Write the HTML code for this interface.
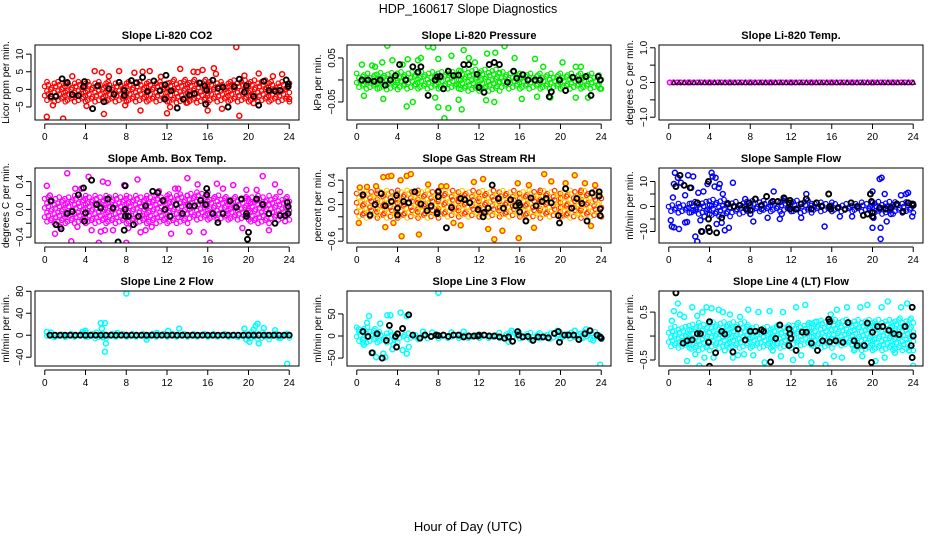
<!DOCTYPE html>
<html><head><meta charset="utf-8">
<style>
html,body{margin:0;padding:0;background:#fff;}
svg{display:block;font-family:"Liberation Sans",Arial,sans-serif;}
</style></head>
<body>
<svg id="chart" width="936" height="540" viewBox="0 0 936 540" xmlns="http://www.w3.org/2000/svg">
<rect x="0" y="0" width="936" height="540" fill="#fff"/>
<text x="468" y="13" text-anchor="middle" font-size="12.5">HDP_160617  Slope Diagnostics</text>
<text x="468" y="531" text-anchor="middle" font-size="13">Hour of Day (UTC)</text>
</svg>
<script>
// ---------- data ----------
const xTicks = [0,4,8,12,16,20,24];
const panelTitles = ["Slope Li-820 CO2","Slope Li-820 Pressure","Slope Li-820 Temp.","Slope Amb. Box Temp.","Slope Gas Stream RH","Slope Sample Flow","Slope Line 2 Flow","Slope Line 3 Flow","Slope Line 4 (LT) Flow"];
const yTitles = ["Licor ppm per min.","kPa per min.","degrees C per min.","degrees C per min.","percent per min.","ml/min per min.","ml/min per min.","ml/min per min.","ml/min per min."];
const yDomains = [[-8.7,12.6],[-0.091,0.0795],[-1.08,1.08],[-0.484,0.596],[-0.63,0.6],[-14.6,15.4],[-56,80.5],[-68,102],[-0.625,0.94]];
const yTickVals = [[-5,0,5,10],[-0.05,0,0.05],[-1,-0.5,0,0.5,1],[-0.4,-0.2,0,0.2,0.4],[-0.6,-0.4,-0.2,0,0.2,0.4],[-10,-5,0,5,10],[-40,0,40,80],[-50,0,50],[-0.5,0,0.5]];
const yTickLabels = [["−5","0","5","10"],["−0.05","","0.05"],["−1.0","","0.0","","1.0"],["−0.4","","0.0","","0.4"],["−0.6","","","0.0","","0.4"],["−10","","0","","10"],["−40","0","40","80"],["−50","0","50"],["−0.5","","0.5"]];
const colors = ["#ff0000","#00ee00","#ff00ff","#ff00ff","#ff8c00","#0000ff","#00ffff","#00ffff","#00ffff"];

// dense core band: low/high per 2-hour bin
const coreLo = [
 [-3.5,-3.5,-3.5,-3.5,-3.5,-3.5,-3.8,-3.8,-3.5,-3.5,-3.5,-3.5],
 [-0.02,-0.022,-0.02,-0.02,-0.02,-0.025,-0.025,-0.02,-0.02,-0.02,-0.02,-0.02],
 [0,0,0,0,0,0,0,0,0,0,0,0],
 [-0.2,-0.2,-0.2,-0.2,-0.2,-0.2,-0.2,-0.15,-0.15,-0.15,-0.2,-0.15],
 [-0.22,-0.22,-0.22,-0.22,-0.2,-0.2,-0.2,-0.2,-0.22,-0.2,-0.22,-0.2],
 [-2.5,-3,-4,-3,-2,-2,-2.5,-2,-2,-2,-3,-2.5],
 [-4,-3,-6,-3,-3,-3,-3,-3,-3,-4,-8,-5],
 [-15,-15,-8,-6,-5,-5,-5,-6,-6,-7,-6,-8],
 [-0.25,-0.3,-0.25,-0.25,-0.25,-0.25,-0.2,-0.25,-0.2,-0.3,-0.3,-0.3]];
const coreHi = [
 [2.5,2.5,2.5,2.5,2.5,2.5,2.8,2.8,2.5,2.8,2.8,2.5],
 [0.015,0.018,0.02,0.02,0.025,0.025,0.025,0.02,0.018,0.018,0.015,0.015],
 [0,0,0,0,0,0,0,0,0,0,0,0],
 [0.18,0.2,0.2,0.2,0.2,0.2,0.22,0.25,0.22,0.2,0.2,0.2],
 [0.25,0.25,0.25,0.25,0.25,0.25,0.25,0.25,0.25,0.25,0.25,0.25],
 [1.5,2,3,2,2.5,2.5,2.5,2,1.5,2,2,2],
 [4,3,6,3,3,3,3,3,3,4,8,5],
 [20,12,8,6,5,5,5,8,8,8,8,10],
 [0.2,0.3,0.3,0.3,0.2,0.25,0.3,0.35,0.35,0.35,0.35,0.4]];

const co2Outliers = [[0.2,-7.8],[1.8,-8.3],[0.8,-4.5],[4.9,5.2],[5.6,4.8],[5.8,-7],[7.3,5.2],[8.8,4.7],[9.4,-6],[9.6,5],[10.3,5.2],[12,-6.8],[12.3,-5],[13.3,5.8],[14.6,5],[15,4.9],[15.5,5.5],[16,-6],[16.6,6],[16.8,4.4],[17.4,-5.5],[18.8,12],[19.1,-7.5],[21,4.5],[23.3,4.3],[2.7,3.7],[4.1,-4.7],[6.3,3.7],[11.4,3.6],[19.6,3.9],[22.4,3.7],[7.9,-4.5],[13.9,-3.8],[20.5,-3.9],[24,-2.7]];
const co2Black = [[0.6,-2],[1.1,-2],[1.7,3],[2.2,1.9],[2.7,-1.5],[3.3,-1.8],[3.8,0.8],[3.9,2.2],[4.7,-5.5],[5.2,1],[5.8,-3.5],[6.3,0.2],[6.8,-1.4],[7.3,2],[7.8,-0.3],[7.8,-1.7],[8.5,2.5],[9,1.9],[9.6,3.4],[10.1,-0.6],[10.7,2.4],[11.3,-0.4],[11.8,-2.8],[11.8,1.3],[11.9,4],[12.4,-0.4],[13,-5.3],[13.6,-2.8],[14.2,-1.6],[14.7,-1.2],[15.2,1.8],[15.7,1],[15.8,-4.2],[15.9,-0.2],[16.5,2.6],[17,0.3],[17.5,0.6],[18,-5],[18.6,0.8],[19.1,2.9],[19.6,-0.8],[19.8,1],[20.5,-2],[21,-4.5],[21.5,2.3],[22,-0.3],[22.6,-0.5],[23.1,-0.3],[23.7,2.7],[23.9,1.5],[23.9,0.8]];

const presOutliers = [[3,0.078],[7,0.076],[7.5,0.074],[10.5,0.068],[14.5,0.077],[9.3,0.055],[12.8,0.06],[13.6,0.062],[0.5,0.035],[1.5,0.033],[2.5,0.04],[3.5,0.045],[5,0.047],[6,0.045],[6.3,0.05],[8,0.048],[11,0.05],[15.5,0.05],[17.5,0.048],[20.2,0.04],[21.5,0.03],[22,0.03],[0.7,-0.036],[2.6,-0.043],[4.9,-0.06],[5.5,-0.05],[7.7,-0.04],[8,-0.062],[8.6,-0.087],[9,-0.064],[10.3,-0.067],[10,-0.045],[12.7,-0.046],[13.5,-0.05],[16.2,-0.043],[17.7,-0.038],[19,-0.04],[21.5,-0.04],[22.7,-0.04],[23.9,-0.02],[1.8,0.03],[4.5,0.035],[11.6,0.04],[18.3,0.03]];
const presBlack = [[0.5,0],[1.1,0],[1.7,-0.003],[2.3,0],[2.8,-0.012],[3.3,0],[3.8,0.01],[4.2,0.035],[4.8,0],[5.5,0.03],[6,0.018],[6.3,0.03],[7,-0.035],[7.7,0],[7.9,0.007],[8.2,0.008],[8.5,-0.02],[9,0.02],[9.5,0.01],[10,0.011],[10.5,0.035],[11,0.035],[11.8,0.013],[12,-0.017],[12.5,-0.028],[13,0.035],[13.5,0.04],[14,0.035],[14.8,-0.005],[15.4,0.02],[15.7,0.004],[16.3,0.012],[16.8,0],[17.5,0],[18,0],[18.9,-0.038],[19.1,-0.027],[19.9,0],[20.5,-0.024],[21.2,0.006],[21.8,0],[22.5,0.008],[23,-0.035],[23.7,0.008],[23.9,0]];

const tempOutliers = [];
const tempBlack = [[0.5,0],[1,0],[1.5,0],[2,0],[2.5,0],[3,0],[3.5,0],[4,0],[4.5,0],[5,0],[5.5,0],[6,0],[6.5,0],[7,0],[7.5,0],[8,0],[8.5,0],[9,0],[9.5,0],[10,0],[10.5,0],[11,0],[11.5,0],[12,0],[12.5,0],[13,0],[13.5,0],[14,0],[14.5,0],[15,0],[15.5,0],[16,0],[16.5,0],[17,0],[17.5,0],[18,0],[18.5,0],[19,0],[19.5,0],[20,0],[20.5,0],[21,0],[21.5,0],[22,0],[22.5,0],[23,0],[23.5,0],[24,0]];

const ambOutliers = [[0.2,0.34],[0.5,0.2],[1,-0.35],[2.2,0.52],[2.6,-0.46],[3,0.3],[3.6,0.3],[4.3,0.47],[4.6,-0.3],[5.3,-0.48],[5.5,-0.32],[5.7,0.4],[6.2,0.38],[6.7,-0.3],[7.8,0.35],[8,-0.48],[8.2,-0.27],[9.1,0.43],[9.4,-0.33],[9.9,-0.3],[11.2,0.26],[12.4,-0.35],[13.1,0.3],[14,0.45],[14.2,-0.32],[15,0.36],[15.6,-0.33],[16.2,-0.48],[16.9,0.37],[18.5,0.35],[19.4,-0.27],[19.8,0.28],[20.8,0.28],[21.4,0.48],[22,-0.3],[22.6,0.36],[23.1,0.25],[23.6,-0.17],[1.5,-0.25],[3.2,-0.25],[5.9,-0.3],[10.5,-0.25],[12.8,0.3],[17.5,0.3]];
const ambBlack = [[0.6,0.12],[1.1,-0.22],[1.6,-0.28],[2.2,-0.06],[2.7,-0.03],[3.3,0.21],[3.8,0.31],[3.9,-0.17],[4,-0.05],[4.6,0.42],[5.1,0.07],[5.5,0.02],[6.2,0.15],[6.7,0.02],[7.2,-0.47],[7.9,0.34],[7.9,0],[7.9,-0.1],[7.8,-0.3],[8.2,-0.1],[8.7,-0.22],[9.2,-0.1],[9.9,0.05],[10.6,0.26],[11.1,0.24],[11.6,0.13],[11.8,0],[12.3,-0.1],[12.9,0.07],[13.5,-0.06],[14.2,0.05],[14.7,0.05],[15.3,0.13],[15.8,0.07],[15.9,0.3],[15.9,0.21],[16.5,-0.06],[17,-0.19],[17.5,-0.06],[18.2,0.12],[18.8,0.03],[19.3,0.15],[19.8,-0.06],[19.8,-0.1],[20,-0.33],[19.9,-0.43],[20.8,0.15],[21.4,0.07],[22,-0.06],[22.6,-0.2],[23.1,-0.09],[23.6,-0.09],[23.8,0.1],[23.9,0.04],[23.9,-0.06]];

const rhOutliers = [[0.3,0.28],[1,0.29],[1.9,0.3],[2.6,0.45],[3.1,0.46],[3.4,0.47],[2.8,-0.37],[4.3,0.4],[4.9,0.47],[5.3,0.5],[4.4,-0.52],[6.1,-0.49],[7,0.33],[8.3,0.3],[8.8,0.3],[10.2,-0.34],[11.5,0.37],[12.4,0.42],[12.9,-0.4],[13.5,-0.57],[14.3,-0.43],[15.8,0.35],[15.9,-0.55],[17.4,-0.38],[18.4,0.5],[19.1,0.38],[20.5,0.35],[21.4,0.48],[22.4,0.35],[23,-0.35],[23.4,0.32],[0.2,-0.3],[3.6,-0.3],[9.5,-0.3],[16.9,0.32]];
const rhBlack = [[0.6,0.16],[1.3,-0.17],[1.8,0],[2.4,0.18],[2.8,-0.02],[3.4,0.05],[3.9,0.15],[4,-0.06],[4,-0.17],[4.6,0.05],[5.1,0.03],[5.7,0.21],[6.3,0.01],[6.9,-0.1],[7.3,-0.02],[7.9,-0.13],[7.9,-0.15],[8,0.13],[8,0.21],[8.8,-0.38],[9.3,-0.05],[10.2,0.1],[10.6,0.08],[11.1,0.03],[11.9,-0.08],[12.4,-0.2],[12.5,-0.13],[12.9,-0.06],[13.3,0.32],[13.9,0.1],[14.4,-0.06],[15.1,0.08],[15.6,-0.02],[15.9,0.03],[16,-0.01],[16,-0.12],[16.6,-0.27],[17.1,0.11],[17.6,-0.02],[18.2,0.05],[18.6,0.1],[19.1,0.03],[19.8,-0.18],[19.9,-0.3],[20.5,0.26],[21.1,-0.06],[21.6,0.1],[22.1,0.02],[22.6,-0.27],[23.1,0.19],[23.8,0.21],[23.8,0.14],[23.9,-0.07],[23.9,-0.18]];

const flowOutliers = [[0.2,-5.5],[0.3,-8],[0.5,-8.3],[0.4,3.6],[0.6,13.5],[0.5,9],[0.9,11.5],[1,-9],[1.2,9.5],[1.6,-6.4],[1.8,-6.2],[1.6,4.5],[1.9,12.5],[2.2,7.5],[2.4,12],[2.4,-1.5],[2.6,-12],[2.8,-14],[2.9,5.5],[3.1,-5.5],[3.4,6],[3.3,-10],[3.5,-4],[3.8,9],[4.2,13.5],[4.3,12],[4.6,11.5],[4.5,8],[4.9,7.5],[5,9],[4.7,-7],[5.2,-6.5],[5.5,-9.5],[5.3,5],[5.9,-8.5],[6.3,9.5],[7.5,3],[8,-3],[8.3,-6],[9.1,-1],[10.3,6],[9.7,-4.5],[10.9,-5],[11.1,-3],[11.4,3],[13,-4.5],[13.5,5],[15.3,-8],[15.9,-1],[16.8,-4],[18,-4],[19.5,-3],[20,-8.5],[20.1,-4.5],[20,6],[20.7,11],[20.9,11.5],[20.8,-13],[20.8,-8.5],[21.2,5],[21.4,-6],[21.8,-3],[22.8,4.5],[23.3,5],[23.5,5.5],[23.9,-4]];
const flowBlack = [[0.7,8],[1.1,12.5],[1.5,8.5],[2.1,7.5],[2.8,1.5],[3.2,-10],[3.9,10],[3.9,-5],[3.9,-8.5],[4,-10],[4.7,-10.5],[5.2,-4.5],[5.8,1],[6.4,0],[7,0.5],[7.6,-1],[7.9,1.5],[8,-1.5],[8.5,3],[9.1,0.5],[9.6,4],[10.2,2],[10.7,2],[11.3,3.5],[11.8,1.5],[11.9,2.5],[11.9,-1],[12.5,-1],[13,1],[13.5,3],[14,-1],[14.5,1.5],[15,0],[15.7,5],[15.8,0],[15.9,-1],[16.6,-0.5],[17.3,-1],[17.9,1.5],[18.5,0],[19.1,-3.5],[19.5,-3],[19.8,5],[19.9,2],[20,-2.5],[20,-4],[20.7,-0.5],[21.3,-1],[21.8,-0.5],[22.4,1],[23,-2],[23.5,1.5],[23.9,1],[24,0.5]];

const line2Outliers = [[5.5,22],[5.9,22],[5.6,12],[6,-15],[5.9,-30],[5.7,-4],[8,76],[4,8],[10,-8],[12.1,8],[13.2,12],[19.6,12],[19.8,-8],[20.1,-12],[20.7,17],[20.5,10],[20.9,21],[21,-15],[21.5,13],[22.6,9],[23.1,-5],[23.8,-52],[0.2,6],[0.6,5],[3.7,6],[7.1,4],[11,4]];
const line2Black = [[0.5,0],[1,0],[1.5,0],[2,0],[2.5,0],[3,0],[3.5,0],[4,0],[4.5,0],[5,0],[5.5,0],[6,0],[6.5,0],[7,0],[7.5,0],[8,0],[8.5,0],[9,0],[9.5,0],[10,0],[10.5,0],[11,0],[11.5,0],[12,0],[12.5,0],[13,0],[13.5,0],[14,0],[14.5,0],[15,0],[15.5,0],[16,0],[16.5,0],[17,0],[17.5,0],[18,0],[18.5,0],[19,0],[19.5,0],[20,0],[20.5,0],[21,0],[21.5,0],[22,0],[22.5,0],[23,0],[23.5,0],[24,0]];

const line3Outliers = [[0.2,15],[0.6,-15],[0.7,-20],[1,30],[1.2,45],[1.6,-38],[1.9,-48],[2.1,5],[2.3,28],[2.6,-40],[2.8,-48],[3,47],[3.3,47],[3.5,-30],[3.6,-20],[4.3,53],[4.5,-32],[4.9,-40],[5.1,-25],[4.9,45],[8,98],[6.5,10],[7.4,8],[9.3,8],[10.5,10],[14.9,-13],[15.2,12],[17.1,-8],[19.7,12],[21.4,12],[22.5,15],[23.2,-10],[23.9,-65]];
const line3Black = [[0.6,10],[1.1,-1],[1.5,-38],[2,5],[2.5,-50],[2.9,-10],[3.2,24],[3.8,-1],[3.9,-25],[4,5],[4.5,17],[5.1,48],[5.5,2],[6.2,-5],[6.7,2],[7.3,-1],[7.8,2],[8,1],[8.5,2],[9,-1],[9.5,2],[10,2],[10.5,-2],[11,0],[11.5,0],[11.9,0],[12,2],[12.5,2],[13,0],[13.5,0],[14,-2],[14.5,-5],[14.9,-2],[15.3,-12],[15.8,10],[15.9,2],[16.3,-2],[16.8,-1],[17.3,-10],[17.8,-2],[18.3,-2],[18.8,-4],[19.4,6],[19.8,10],[19.9,-14],[20.4,2],[20.8,2],[21.3,2],[21.8,-8],[22.4,5],[22.9,12],[23.6,2],[23.9,-2],[24,-5]];

const line4Outliers = [[0.3,0.32],[0.5,0.52],[0.9,0.68],[1.5,0.4],[1.8,-0.52],[2.3,0.6],[2.6,-0.38],[3,-0.62],[3.3,0.5],[3.5,-0.45],[3.7,0.6],[4.2,0.58],[4.4,-0.45],[4.9,0.55],[5.3,0.5],[5.5,-0.3],[6,0.45],[6.3,-0.45],[7,0.4],[7.4,-0.38],[7.8,0.55],[8.8,0.5],[9.4,-0.55],[9.9,0.52],[10.2,-0.3],[11.2,0.5],[12.2,-0.5],[12.5,0.6],[13.4,0.65],[14,-0.55],[14.5,0.3],[15.4,-0.6],[15.9,0.45],[16.5,0.55],[17,-0.45],[17.5,0.6],[18.2,-0.3],[18.8,0.6],[19.5,0.65],[20.3,-0.52],[20.9,0.6],[21.5,0.72],[22.2,-0.35],[22.8,0.6],[23.4,0.68],[23.6,-0.3],[1.1,0.45],[2.8,0.42],[6.8,-0.4],[8.3,-0.4],[11,-0.42],[13,-0.4],[16.2,-0.42],[19,-0.42],[21.2,-0.45],[24,-0.62]];
const line4Black = [[0.7,0.9],[1.4,-0.15],[1.8,-0.1],[2.3,-0.08],[2.8,0.05],[3.1,0.05],[3.9,-0.13],[4,0.3],[4,-0.63],[4.6,-0.35],[5.2,0.1],[5.5,0.04],[6.3,-0.33],[6.8,0.15],[7.5,-0.08],[8,0.1],[8.5,0.1],[9.1,0.13],[9.3,0.1],[10,-0.54],[10.5,-0.05],[10.9,0.23],[11.8,0.15],[11.9,0.05],[11.8,-0.2],[12,-0.05],[12.5,-0.3],[13.1,0.08],[13.5,0.08],[14,-0.15],[14.6,-0.3],[15.1,-0.1],[15.7,0.35],[15.8,0.3],[15.8,-0.12],[16.4,-0.1],[17.1,-0.13],[17.6,0.28],[18.2,-0.1],[18.5,-0.2],[19.2,-0.2],[19.5,0.27],[19.9,-0.55],[20,0.08],[20.5,0.2],[21,0.2],[21.6,0.12],[22.1,0.05],[22.6,0.03],[23.2,0.2],[23.9,0.6],[23.9,-0.45],[24,0],[23.8,-0.2]];

const outlierSets = [co2Outliers,presOutliers,tempOutliers,ambOutliers,rhOutliers,flowOutliers,line2Outliers,line3Outliers,line4Outliers];
const blackSets = [co2Black,presBlack,tempBlack,ambBlack,rhBlack,flowBlack,line2Black,line3Black,line4Black];

// ---------- layout ----------
const NS = "http://www.w3.org/2000/svg";
const svg = document.getElementById('chart');
const colLeft = [35,347,659], boxW = 264;
const rowTop = [45,168,291], boxH = 75;
const X_MIN = -0.96, X_MAX = 24.96;

function mk(tag, attrs, parent){
  const e = document.createElementNS(NS, tag);
  for (const k in attrs) e.setAttribute(k, attrs[k]);
  (parent||svg).appendChild(e);
  return e;
}

for (let p = 0; p < 9; p++) {
  const L = colLeft[p%3], T = rowTop[Math.floor(p/3)];
  const dom = yDomains[p];
  const xs = h => L + (h - X_MIN)/(X_MAX - X_MIN)*boxW;
  const ys = v => T + boxH - (v - dom[0])/(dom[1]-dom[0])*boxH;
  const g = mk('g', {});
  
  

  const clipId = 'clip'+p;
  const cp = mk('clipPath', {id: clipId}, g);
  mk('rect', {x: L, y: T, width: boxW, height: boxH}, cp);
  const marks = mk('g', {'clip-path': 'url(#'+clipId+')'}, g);
  
  

  const col = colors[p];
  // core band
  const stepY = (dom[1]-dom[0]) / boxH * 4.6;
  let k = 0;
  for (let b = 0; b < 12; b++) {
    const lo = coreLo[p][b], hi = coreHi[p][b];
    for (let h = 2*b + 0.1; h < 2*b + 2; h += 0.36) {
      k++;
      if (hi === lo) {
        const m = mk('circle', {cx: xs(h).toFixed(1), cy: ys(lo).toFixed(1), r: 2.3, fill: 'none', stroke: col, 'stroke-width': 1.6}, marks);
        
        
        continue;
      }
      const off = (k % 3) * stepY/3;
      let j = 0;
      for (let v = lo + off; v <= hi + 1e-9; v += stepY) {
        j++;
        let c = col;
        if (p === 4) c = ((k + j) % 2) ? '#ff3300' : '#ffcc00';
        const dx = ((j % 2) ? 0.12 : -0.12);
        const m = mk('circle', {cx: xs(h + dx).toFixed(1), cy: ys(v).toFixed(1), r: 2.3, fill: 'none', stroke: c, 'stroke-width': 1.2}, marks);
        
        
      }
    }
  }
  // outliers
  outlierSets[p].forEach(d => {
    const m = mk('circle', {cx: xs(d[0]).toFixed(1), cy: ys(d[1]).toFixed(1), r: 2.5, fill: p===4?'#ffff00':'none', stroke: p===4?'#ff5000':col, 'stroke-width': 1.5}, marks);
    
    
  });
  // black points
  blackSets[p].forEach(d => {
    const cx = xs(d[0]), cy = ys(d[1]);
    let m;
    if (p === 2) {
      m = mk('path', {d: `M${(cx-2.3).toFixed(1)},${(cy+1.8).toFixed(1)} L${cx.toFixed(1)},${(cy-2.2).toFixed(1)} L${(cx+2.3).toFixed(1)},${(cy+1.8).toFixed(1)} Z`, fill: 'none', stroke: '#000', 'stroke-width': 1}, marks);
    } else {
      m = mk('circle', {cx: cx.toFixed(1), cy: cy.toFixed(1), r: 2.5, fill: 'none', stroke: '#000', 'stroke-width': 1.9}, marks);
    }
    
    
  });

  // box
  const box = mk('rect', {x: L, y: T, width: boxW, height: boxH, fill: 'none', stroke: '#000', 'stroke-width': 1}, g);
  
  

  // title
  const t = mk('text', {x: L + boxW/2, y: T - 6, 'text-anchor': 'middle', 'font-size': 11, 'font-weight': 'bold'}, g);
  t.textContent = panelTitles[p];
  
  

  // x axis
  const xa = mk('g', {}, g);
  
  
  mk('line', {x1: xs(0), x2: xs(24), y1: T+boxH+4, y2: T+boxH+4, stroke: '#000'}, xa);
  xTicks.forEach(v => {
    mk('line', {x1: xs(v), x2: xs(v), y1: T+boxH+4, y2: T+boxH+9, stroke: '#000'}, xa);
    const lt = mk('text', {x: xs(v), y: T+boxH+20, 'text-anchor': 'middle', 'font-size': 10}, xa);
    lt.textContent = v;
    
    
  });

  // y axis
  const ya = mk('g', {}, g);
  
  
  const tv = yTickVals[p];
  mk('line', {x1: L-4, x2: L-4, y1: ys(tv[0]), y2: ys(tv[tv.length-1]), stroke: '#000'}, ya);
  tv.forEach((v,i) => {
    const yy = ys(v);
    mk('line', {x1: L-9, x2: L-4, y1: yy, y2: yy, stroke: '#000'}, ya);
    const lab = yTickLabels[p][i];
    if (lab) {
      const lt = mk('text', {x: L-12, y: yy, 'text-anchor': 'middle', 'font-size': 10, transform: `rotate(-90 ${L-12} ${yy})`}, ya);
      lt.textContent = lab;
      
      
    }
  });
  const yt = mk('text', {x: L-26, y: T+boxH/2, 'text-anchor': 'middle', 'font-size': 10, transform: `rotate(-90 ${L-26} ${T+boxH/2})`}, g);
  yt.textContent = yTitles[p];
  
  
}
</script>
</body></html>
